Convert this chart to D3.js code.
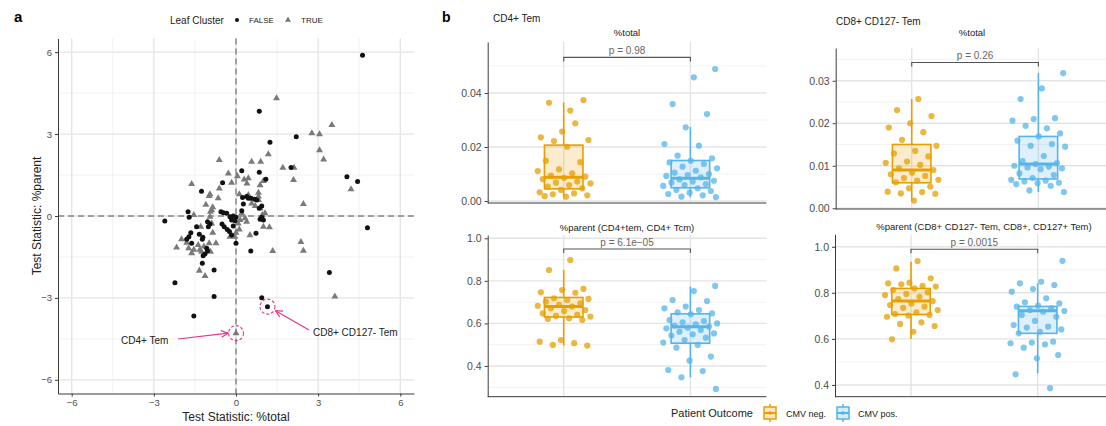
<!DOCTYPE html>
<html>
<head>
<meta charset="utf-8">
<script src="https://cdn.jsdelivr.net/npm/d3@7"></script>
<style>
  body { margin: 0; background: #fff; }
  svg { font-family: "Liberation Sans", Arial, sans-serif; }
</style>
</head>
<body>
<div id="chart"></div>
<script>
// ---- panel a data (test statistics, x = %total, y = %parent) ----
var leafFalse = [
  [4.62,5.89],[0.85,3.84],[2.20,2.90],[1.24,2.70],[0.21,1.66],[0.85,1.60],[2.01,1.78],
  [1.09,1.35],[-0.49,1.22],[4.05,1.44],[4.44,1.26],[-1.26,0.91],[0.24,0.68],[0.39,0.71],
  [0.55,0.65],[0.68,0.61],[0.76,0.59],[0.45,0.65],[0.27,0.44],[0.94,0.37],[0.85,0.28],
  [0.21,0.19],[-0.55,0.16],[-0.46,0.12],[-0.34,0.10],[-1.75,0.16],[-1.71,-0.05],[-2.60,-0.18],
  [-0.22,-0.03],[-0.10,0.00],[0.00,-0.05],[-0.16,-0.15],[-0.04,-0.17],[0.88,-0.12],[1.00,-0.15],
  [0.94,-0.05],[-1.04,-0.21],[-0.95,-0.29],[-1.01,-0.39],[-1.44,-0.39],[-0.51,-0.29],[-0.43,-0.39],
  [-0.32,-0.49],[-0.24,-0.57],[-0.16,-0.70],[-0.10,-0.37],[0.73,-0.63],[-1.34,-0.67],[-1.21,-0.78],
  [-1.65,-0.61],[-1.72,-0.76],[0.00,-1.00],[-1.80,-0.85],[-1.62,-1.00],[-1.23,-0.85],[-1.07,-1.18],
  [-1.04,-1.27],[-1.13,-1.39],[-1.20,-1.46],[0.54,-1.28],[-1.23,-1.73],[-0.80,-1.98],[-2.23,-2.44],
  [-0.80,-2.95],[-1.54,-3.66],[0.94,-2.99],[1.15,-3.32],[4.80,-0.43],[3.41,-2.07]
];
var leafTrue = [
  [1.48,4.31],[3.50,3.33],[2.77,3.03],[3.05,2.99],[3.05,2.41],[3.20,2.07],[1.18,2.26],
  [-0.61,2.05],[0.57,1.99],[0.90,1.99],[-0.28,1.56],[0.05,1.46],[1.71,1.77],[2.12,1.77],
  [2.10,1.32],[1.00,1.28],[0.30,1.34],[0.45,1.38],[0.40,1.19],[0.88,1.13],[-0.16,1.22],
  [-1.62,1.17],[4.20,0.98],[-0.61,1.01],[-0.95,0.80],[-0.98,0.73],[-0.65,0.65],[0.12,0.80],
  [0.45,0.77],[0.82,0.85],[0.82,0.71],[0.82,0.59],[0.57,0.46],[0.70,0.37],[0.88,0.28],
  [-1.10,0.41],[-0.85,0.32],[-0.89,0.22],[-1.54,0.04],[0.33,-0.08],[0.39,-0.21],[0.15,-0.15],
  [1.06,0.10],[1.00,-0.39],[1.22,-0.41],[-0.89,-0.27],[0.08,-0.27],[0.12,-0.49],[0.00,-0.61],
  [0.51,-0.70],[-0.22,-0.76],[-0.04,-0.76],[-1.99,-0.85],[-0.85,-0.61],[-2.17,-1.15],[-1.80,-0.98],
  [-1.73,-1.18],[-1.62,-1.36],[-1.54,-1.24],[-1.38,-1.06],[-1.32,-1.24],[-1.17,-1.12],[-1.26,-1.31],
  [-0.93,-1.31],[-0.98,-1.00],[-0.73,-1.00],[-1.34,-2.00],[-1.13,-2.20],[0.00,-4.29],[1.34,-1.28],
  [0.96,0.04],[2.37,-0.95],[2.46,-1.27],[3.61,-2.95],[2.46,0.44],[0.21,0.10],[-0.93,0.16],
  [-0.95,-0.03],[-1.29,-0.39]
];
var ticksA = [-6, -3, 0, 3, 6];
var minorA = [-4.5, -1.5, 1.5, 4.5];
var highlighted = [[0.00, -4.29, "CD4+ Tem"], [1.15, -3.32, "CD8+ CD127- Tem"]];

// ---- panel b data ----
var outcomes = ["CMV neg.", "CMV pos."];
var panelTitles = ["CD4+ Tem", "CD8+ CD127- Tem"];
var stripTitles = ["%total", "%total", "%parent (CD4+tem, CD4+ Tcm)", "%parent (CD8+ CD127- Tem, CD8+, CD127+ Tem)"];
var pValues = ["p = 0.98", "p = 0.26", "p = 6.1e\u221205", "p = 0.0015"];
var bracketY = [0.0532, 0.0343, 0.950, 0.989];

var cd4TotalNeg = [0.0335,0.0364,0.0374,0.0257,0.0236,0.0288,0.0222,0.0226,0.0201,0.0149,0.0144,0.0117,0.0111,0.0102,0.0094,0.0090,0.0086,0.0081,0.0072,0.0068,0.0065,0.0059,0.0053,0.0047,0.0041,0.0032,0.0028,0.0025,0.0021,0.0016,0.0018];
var cd4TotalPos = [0.0489,0.0458,0.0359,0.0322,0.0273,0.0211,0.0205,0.0168,0.0158,0.0149,0.0143,0.0137,0.0127,0.0121,0.0112,0.0105,0.0100,0.0096,0.0093,0.0088,0.0080,0.0075,0.0072,0.0068,0.0063,0.0059,0.0056,0.0047,0.0041,0.0037,0.0031,0.0026,0.0021,0.0016,0.0014];
var cd8TotalNeg = [0.0257,0.0231,0.0217,0.0200,0.0190,0.0179,0.0161,0.0147,0.0135,0.0129,0.0122,0.0110,0.0107,0.0102,0.0094,0.0090,0.0084,0.0080,0.0076,0.0071,0.0067,0.0065,0.0061,0.0051,0.0047,0.0039,0.0038,0.0035,0.0034,0.0018];
var cd8TotalPos = [0.0318,0.0282,0.0257,0.0212,0.0210,0.0206,0.0188,0.0194,0.0176,0.0169,0.0159,0.0151,0.0147,0.0145,0.0123,0.0111,0.0106,0.0104,0.0100,0.0098,0.0096,0.0094,0.0092,0.0082,0.0078,0.0071,0.0067,0.0065,0.0063,0.0060,0.0059,0.0057,0.0053,0.0042,0.0038];
var cd4ParentNeg = [0.898,0.851,0.762,0.757,0.746,0.744,0.718,0.715,0.710,0.702,0.694,0.687,0.683,0.679,0.671,0.663,0.658,0.647,0.640,0.635,0.632,0.624,0.621,0.616,0.522,0.514,0.507,0.499,0.496];
var cd4ParentPos = [0.776,0.752,0.710,0.705,0.679,0.671,0.663,0.652,0.647,0.643,0.616,0.611,0.605,0.600,0.596,0.590,0.585,0.580,0.577,0.569,0.561,0.553,0.549,0.543,0.533,0.522,0.510,0.499,0.486,0.444,0.425,0.381,0.376,0.347,0.292];
var cd8ParentNeg = [0.938,0.906,0.863,0.844,0.841,0.830,0.837,0.827,0.819,0.812,0.802,0.795,0.790,0.783,0.773,0.764,0.754,0.747,0.740,0.735,0.725,0.715,0.708,0.704,0.701,0.696,0.672,0.665,0.656,0.631,0.598];
var cd8ParentPos = [0.939,0.848,0.841,0.834,0.816,0.805,0.776,0.759,0.754,0.744,0.740,0.733,0.725,0.721,0.718,0.704,0.696,0.678,0.660,0.653,0.649,0.641,0.631,0.624,0.588,0.584,0.581,0.576,0.562,0.530,0.516,0.446,0.386];

// box stats: [lower whisker, q1, median, q3, upper whisker]
var cd4TotalNegBox = [0.0015, 0.0045, 0.0088, 0.0207, 0.0365];
var cd4TotalPosBox = [0.0013, 0.0049, 0.0084, 0.0150, 0.0274];
var cd8TotalNegBox = [0.0018, 0.0060, 0.0090, 0.0150, 0.0257];
var cd8TotalPosBox = [0.0038, 0.0069, 0.0104, 0.0169, 0.0318];
var cd4ParentNegBox = [0.496, 0.630, 0.680, 0.722, 0.851];
var cd4ParentPosBox = [0.347, 0.507, 0.584, 0.645, 0.773];
var cd8ParentNegBox = [0.600, 0.706, 0.764, 0.819, 0.935];
var cd8ParentPosBox = [0.450, 0.624, 0.722, 0.741, 0.841];

var ticksTotal4 = [0, 0.02, 0.04], minorTotal4 = [0.01, 0.03, 0.05];
var ticksTotal8 = [0, 0.01, 0.02, 0.03], minorTotal8 = [0.005, 0.015, 0.025, 0.035];
var ticksParent = [0.4, 0.6, 0.8, 1.0], minorParent = [0.3, 0.5, 0.7, 0.9];

var colors = ["#E69F00", "#56B4E9"];
var gridMajor = "#e4e4e4", gridMinor = "#f0f0f0", axisCol = "#3a3a3a", tickText = "#4d4d4d";

var svgWidth = 1106, svgHeight = 426;
var svg = d3.select("#chart").append("svg")
  .attr("width", svgWidth)
  .attr("height", svgHeight);

// ================= panel a =================
var aLeft = 58, aRight = 414, aTop = 38.5, aBottom = 393.5;
var xA = d3.scaleLinear().domain([-6.5, 6.5]).range([aLeft, aRight]);
var yA = d3.scaleLinear().domain([-6.5, 6.5]).range([aBottom, aTop]);

var gA = svg.append("g");

// grid
gA.selectAll(".minx").data(minorA).enter().append("line")
  .attr("x1", d => xA(d)).attr("x2", d => xA(d)).attr("y1", aTop).attr("y2", aBottom)
  .attr("stroke", gridMinor).attr("stroke-width", 0.9);
gA.selectAll(".miny").data(minorA).enter().append("line")
  .attr("y1", d => yA(d)).attr("y2", d => yA(d)).attr("x1", aLeft).attr("x2", aRight)
  .attr("stroke", gridMinor).attr("stroke-width", 0.9);
gA.selectAll(".majx").data(ticksA).enter().append("line")
  .attr("x1", d => xA(d)).attr("x2", d => xA(d)).attr("y1", aTop).attr("y2", aBottom)
  .attr("stroke", gridMajor).attr("stroke-width", 1.4);
gA.selectAll(".majy").data(ticksA).enter().append("line")
  .attr("y1", d => yA(d)).attr("y2", d => yA(d)).attr("x1", aLeft).attr("x2", aRight)
  .attr("stroke", gridMajor).attr("stroke-width", 1.4);

// zero reference lines
gA.append("line").attr("x1", xA(0)).attr("x2", xA(0)).attr("y1", aTop).attr("y2", aBottom)
  .attr("stroke", "#555").attr("stroke-width", 1).attr("stroke-dasharray", "6,4");
gA.append("line").attr("y1", yA(0)).attr("y2", yA(0)).attr("x1", aLeft).attr("x2", aRight)
  .attr("stroke", "#555").attr("stroke-width", 1).attr("stroke-dasharray", "6,4");

// axes
var fmtA = d => d < 0 ? "\u2212" + Math.abs(d) : String(d);
var xAxisA = gA.append("g")
  .attr("transform", `translate(0, ${aBottom})`)
  .call(d3.axisBottom(xA).tickValues(ticksA).tickFormat(fmtA).tickSize(3).tickSizeOuter(0));
var yAxisA = gA.append("g")
  .attr("transform", `translate(${aLeft}, 0)`)
  .call(d3.axisLeft(yA).tickValues(ticksA).tickFormat(fmtA).tickSize(3).tickSizeOuter(0));
[xAxisA, yAxisA].forEach(function(ax) {
  ax.select(".domain").attr("stroke", axisCol);
  ax.selectAll(".tick line").attr("stroke", axisCol);
  ax.selectAll(".tick text").attr("fill", tickText).attr("font-size", "9.5px")
    .attr("font-family", "Liberation Sans, Arial, sans-serif");
});

// points
gA.selectAll(".tri").data(leafTrue).enter().append("path")
  .attr("d", d3.symbol().type(d3.symbolTriangle).size(21))
  .attr("transform", d => `translate(${xA(d[0])}, ${yA(d[1])})`)
  .attr("fill", "#7a7a7a");
gA.selectAll(".dot").data(leafFalse).enter().append("circle")
  .attr("cx", d => xA(d[0])).attr("cy", d => yA(d[1])).attr("r", 2.5)
  .attr("fill", "#111");

// highlighted populations
var pink = "#E0398A";
gA.selectAll(".ring").data(highlighted).enter().append("circle")
  .attr("cx", d => xA(d[0])).attr("cy", d => yA(d[1])).attr("r", 7.5)
  .attr("fill", "none").attr("stroke", pink).attr("stroke-width", 1.1).attr("stroke-dasharray", "3,2");

svg.append("defs").append("marker")
  .attr("id", "arr").attr("viewBox", "0 0 10 10").attr("refX", 9).attr("refY", 5)
  .attr("markerWidth", 7).attr("markerHeight", 7).attr("orient", "auto")
  .append("path").attr("d", "M1,1 L9,5 L1,9").attr("fill", "none").attr("stroke", pink).attr("stroke-width", 1.4);

gA.append("line")
  .attr("x1", 178).attr("y1", 339).attr("x2", xA(highlighted[0][0]) - 8).attr("y2", yA(highlighted[0][1]))
  .attr("stroke", pink).attr("stroke-width", 1.2).attr("marker-end", "url(#arr)");
gA.append("line")
  .attr("x1", 309).attr("y1", 330).attr("x2", xA(highlighted[1][0]) + 8).attr("y2", yA(highlighted[1][1]) + 4)
  .attr("stroke", pink).attr("stroke-width", 1.2).attr("marker-end", "url(#arr)");
gA.append("text").attr("x", 121).attr("y", 344).attr("font-size", "10px").attr("fill", "#222").text(highlighted[0][2]);
gA.append("text").attr("x", 313).attr("y", 336).attr("font-size", "10px").attr("fill", "#222").text(highlighted[1][2]);

// axis titles
gA.append("text").attr("x", xA(0)).attr("y", 421).attr("text-anchor", "middle")
  .attr("font-size", "12px").attr("fill", "#222").text("Test Statistic: %total");
gA.append("text").attr("transform", `translate(41, ${yA(0)}) rotate(-90)`).attr("text-anchor", "middle")
  .attr("font-size", "12px").attr("fill", "#222").text("Test Statistic: %parent");

// legend
gA.append("text").attr("x", 14).attr("y", 22).attr("font-size", "15px").attr("font-weight", "bold").text("a");
gA.append("text").attr("x", 170).attr("y", 23.5).attr("font-size", "10px").attr("fill", "#222").text("Leaf Cluster");
gA.append("circle").attr("cx", 237).attr("cy", 20).attr("r", 2).attr("fill", "#111");
gA.append("text").attr("x", 249).attr("y", 23).attr("font-size", "8px").attr("fill", "#222").text("FALSE");
gA.append("path").attr("d", d3.symbol().type(d3.symbolTriangle).size(16)())
  .attr("transform", "translate(288, 20)").attr("fill", "#7a7a7a");
gA.append("text").attr("x", 301).attr("y", 23).attr("font-size", "8px").attr("fill", "#222").text("TRUE");

// ================= panel b =================
svg.append("text").attr("x", 442).attr("y", 22).attr("font-size", "14px").attr("font-weight", "bold").text("b");
svg.append("text").attr("x", 493).attr("y", 21.5).attr("font-size", "10px").attr("fill", "#222").text(panelTitles[0]);
svg.append("text").attr("x", 836).attr("y", 25).attr("font-size", "10px").attr("fill", "#222").text(panelTitles[1]);

var panels = [
  { x0: 487.7, x1: 766.4, yb: 203, yt: 42, dom: [-0.00074, 0.0589], major: ticksTotal4, minor: minorTotal4, fmt: ".2f",
    neg: cd4TotalNeg, pos: cd4TotalPos, negBox: cd4TotalNegBox, posBox: cd4TotalPosBox, stripY: 35.5, stripX: 627 },
  { x0: 835.7, x1: 1114.4, yb: 209, yt: 48, dom: [-0.00017, 0.0377], major: ticksTotal8, minor: minorTotal8, fmt: ".2f",
    neg: cd8TotalNeg, pos: cd8TotalPos, negBox: cd8TotalNegBox, posBox: cd8TotalPosBox, stripY: 35.5, stripX: 972 },
  { x0: 487.7, x1: 766.4, yb: 396.7, yt: 235, dom: [0.2556, 1.0155], major: ticksParent, minor: minorParent, fmt: ".1f",
    neg: cd4ParentNeg, pos: cd4ParentPos, negBox: cd4ParentNegBox, posBox: cd4ParentPosBox, stripY: 230.5, stripX: 627 },
  { x0: 835, x1: 1113.7, yb: 396.7, yt: 234.3, dom: [0.349, 1.054], major: ticksParent, minor: minorParent, fmt: ".1f",
    neg: cd8ParentNeg, pos: cd8ParentPos, negBox: cd8ParentNegBox, posBox: cd8ParentPosBox, stripY: 230, stripX: 984 }
];

// deterministic horizontal jitter (golden ratio sequence)
function jitter(i) {
  return (((i + 1) * 0.6180339887) % 1 - 0.5) * 0.44;
}

function drawBoxPanel(p, idx) {
  var g = svg.append("g");
  var x = d3.scaleLinear().domain([0.4, 2.6]).range([p.x0, p.x1]);
  var y = d3.scaleLinear().domain(p.dom).range([p.yb, p.yt]);
  var minor = p.minor.filter(d => d > p.dom[0] && d < p.dom[1]);

  g.selectAll(".gmin").data(minor).enter().append("line")
    .attr("x1", p.x0).attr("x2", p.x1).attr("y1", d => y(d)).attr("y2", d => y(d))
    .attr("stroke", gridMinor).attr("stroke-width", 0.9);
  g.selectAll(".gmaj").data(p.major).enter().append("line")
    .attr("x1", p.x0).attr("x2", p.x1).attr("y1", d => y(d)).attr("y2", d => y(d))
    .attr("stroke", gridMajor).attr("stroke-width", 1.4);
  g.selectAll(".gx").data([1, 2]).enter().append("line")
    .attr("x1", d => x(d)).attr("x2", d => x(d)).attr("y1", p.yt).attr("y2", p.yb)
    .attr("stroke", gridMajor).attr("stroke-width", 1.4);

  var yAxis = g.append("g").attr("transform", `translate(${p.x0}, 0)`)
    .call(d3.axisLeft(y).tickValues(p.major).tickFormat(d3.format(p.fmt)).tickSize(3).tickSizeOuter(0));
  yAxis.select(".domain").attr("stroke", axisCol);
  yAxis.selectAll(".tick line").attr("stroke", axisCol);
  yAxis.selectAll(".tick text").attr("fill", tickText).attr("font-size", "10.5px")
    .attr("font-family", "Liberation Sans, Arial, sans-serif");
  g.append("line").attr("x1", p.x0).attr("x2", p.x1).attr("y1", p.yb).attr("y2", p.yb)
    .attr("stroke", axisCol).attr("stroke-width", 1);

  // boxes
  var boxes = [p.negBox, p.posBox];
  var bw = 0.152;
  boxes.forEach(function(b, k) {
    var cx = x(k + 1), c = colors[k];
    g.append("line").attr("x1", cx).attr("x2", cx).attr("y1", y(b[0])).attr("y2", y(b[1]))
      .attr("stroke", c).attr("stroke-width", 1.6);
    g.append("line").attr("x1", cx).attr("x2", cx).attr("y1", y(b[3])).attr("y2", y(b[4]))
      .attr("stroke", c).attr("stroke-width", 1.6);
    g.append("rect").attr("x", x(k + 1 - bw)).attr("width", x(k + 1 + bw) - x(k + 1 - bw))
      .attr("y", y(b[3])).attr("height", y(b[1]) - y(b[3]))
      .attr("fill", c).attr("fill-opacity", 0.2).attr("stroke", c).attr("stroke-width", 1.6);
    g.append("line").attr("x1", x(k + 1 - bw)).attr("x2", x(k + 1 + bw)).attr("y1", y(b[2])).attr("y2", y(b[2]))
      .attr("stroke", c).attr("stroke-width", 3);
  });

  // jittered points
  [p.neg, p.pos].forEach(function(vals, k) {
    g.selectAll(".pt" + k).data(vals).enter().append("circle")
      .attr("cx", (d, i) => x(k + 1 + jitter(i + k * 7)))
      .attr("cy", d => y(d))
      .attr("r", 3.1)
      .attr("fill", colors[k]).attr("fill-opacity", 0.75);
  });

  // comparison bracket
  var by = y(bracketY[idx]);
  g.append("path")
    .attr("d", `M${x(1)},${by + 4} L${x(1)},${by} L${x(2)},${by} L${x(2)},${by + 4}`)
    .attr("fill", "none").attr("stroke", "#555").attr("stroke-width", 1.1);
  g.append("text").attr("x", (x(1) + x(2)) / 2).attr("y", by - 3).attr("text-anchor", "middle")
    .attr("font-size", "10px").attr("fill", "#666").text(pValues[idx]);

  // strip title
  g.append("text").attr("x", p.stripX).attr("y", p.stripY).attr("text-anchor", "middle")
    .attr("font-size", "9.5px").attr("fill", "#222").text(stripTitles[idx]);
}

panels.forEach(drawBoxPanel);

// legend for patient outcome
var lg = svg.append("g");
lg.append("text").attr("x", 671).attr("y", 417).attr("font-size", "11px").attr("fill", "#222").text("Patient Outcome");
var keyX = [763, 836];
var labX = [786, 858];
outcomes.forEach(function(o, k) {
  var kx = keyX[k], c = colors[k];
  lg.append("line").attr("x1", kx + 7).attr("x2", kx + 7).attr("y1", 404).attr("y2", 422)
    .attr("stroke", c).attr("stroke-width", 1.5);
  lg.append("rect").attr("x", kx + 1).attr("y", 407).attr("width", 12).attr("height", 12)
    .attr("fill", "#fff").attr("stroke", c).attr("stroke-width", 1.5);
  lg.append("rect").attr("x", kx + 1).attr("y", 407).attr("width", 12).attr("height", 12)
    .attr("fill", c).attr("fill-opacity", 0.25);
  lg.append("line").attr("x1", kx + 1).attr("x2", kx + 13).attr("y1", 413).attr("y2", 413)
    .attr("stroke", c).attr("stroke-width", 2);
  lg.append("circle").attr("cx", kx + 7).attr("cy", 413).attr("r", 1.8).attr("fill", c);
  lg.append("text").attr("x", labX[k]).attr("y", 416.5).attr("font-size", "9px").attr("fill", "#222").text(o);
});
</script>
</body>
</html>
